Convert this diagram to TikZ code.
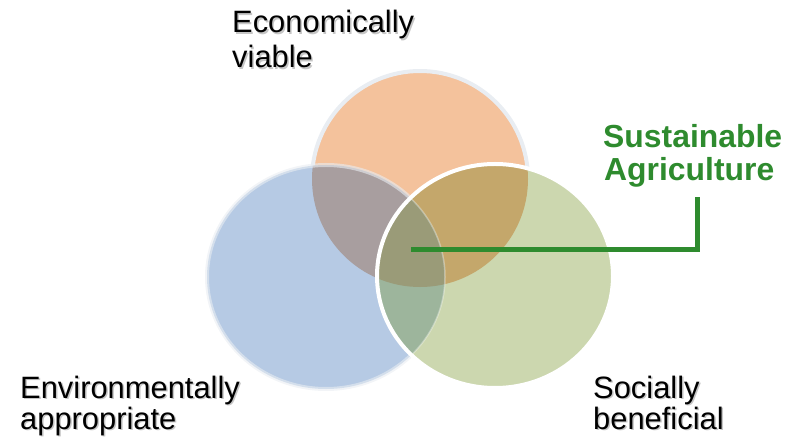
\documentclass[tikz,border=0pt]{standalone}
\usepackage{fontspec}
\setmainfont{Liberation Sans}
\definecolor{orangeC}{HTML}{F4C29C}
\definecolor{blueC}{HTML}{B6CAE4}
\definecolor{greenC}{HTML}{CCD7AF}
\definecolor{obC}{HTML}{A89E9F}
\definecolor{ogC}{HTML}{C4A76B}
\definecolor{bgC}{HTML}{9DB59C}
\definecolor{obgC}{HTML}{9A9B78}
\definecolor{rimC}{HTML}{E9EDF2}
\definecolor{saGreen}{HTML}{2E8B2E}
\begin{document}
\begin{tikzpicture}[x=1bp,y=-1bp,
  lbl/.style={font=\fontsize{31}{35}\selectfont, anchor=base west, inner sep=0pt, text=black},
  lblshadow/.style={lbl, text=black!50, opacity=0.45},
  salbl/.style={font=\fontsize{32}{36}\selectfont\bfseries, anchor=base west, inner sep=0pt, text=saGreen},
  link/.style={draw=saGreen, line width=5bp, line join=miter, line cap=rect},
  rim/.style={line width=4bp}]
\useasboundingbox (0,0) rectangle (802,440);
\def\Opath{(420,179) ellipse [x radius=108bp, y radius=108bp]}
\def\Bpath{(326,277) ellipse [x radius=119bp, y radius=112bp]}
\def\Gpath{(495,276) ellipse [x radius=118bp, y radius=112bp]}
% orange
\fill[orangeC] \Opath;
\draw[rim, draw=rimC] \Opath;
% blue
\fill[blueC] \Bpath;
\begin{scope}
  \clip \Bpath;
  \fill[obC] \Opath;
\end{scope}
\draw[rim, draw=rimC, draw opacity=0.6] \Bpath;
% green
\fill[greenC] \Gpath;
\begin{scope}
  \clip \Gpath;
  \fill[ogC] \Opath;
  \fill[bgC] \Bpath;
  \clip \Bpath;
  \fill[obgC] \Opath;
\end{scope}
\begin{scope}
  \clip \Gpath;
  \draw[line width=1.5bp, draw=white, draw opacity=0.35] \Bpath;
\end{scope}
\draw[rim, draw=white] \Gpath;
% connector
\coordinate (hub) at (413,250);
\coordinate (tip) at (697,200);
\draw[link] (hub) -| (tip);
% labels
\node[salbl] (sa1) at (603,148) {Sustainable};
\node[salbl] (sa2) at (604,181) {Agriculture};
\node[lblshadow] (ec1s) at (233.5,34.5) {Economically};
\node[lblshadow] (ec2s) at (233.5,69.5) {viable};
\node[lbl] (ec1) at (232,33) {Economically};
\node[lbl] (ec2) at (232,68) {viable};
\node[lblshadow] (en1s) at (21.5,399.5) {Environmentally};
\node[lblshadow] (en2s) at (21.5,430.5) {appropriate};
\node[lbl] (en1) at (20,398) {Environmentally};
\node[lbl] (en2) at (20,429) {appropriate};
\node[lblshadow] (so1s) at (594.5,399.5) {Socially};
\node[lblshadow] (so2s) at (594.5,430.5) {beneficial};
\node[lbl] (so1) at (593,398) {Socially};
\node[lbl] (so2) at (593,429) {beneficial};
\end{tikzpicture}
\end{document}
